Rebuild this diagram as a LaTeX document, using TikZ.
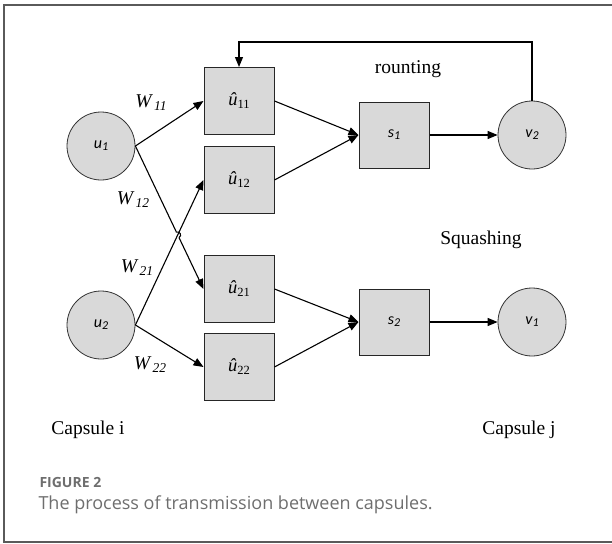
\documentclass[tikz,border=0pt]{standalone}
\usepackage{fontspec}
\setmainfont{Liberation Serif}
\newfontfamily\capfont{Open Sans}
\newfontfamily\calfont{Carlito}
\usepackage{tikz}
\usetikzlibrary{arrows.meta, positioning, calc, intersections}
\usepackage{xcolor}
\definecolor{cellgray}{HTML}{D9D9D9}
\definecolor{framegray}{HTML}{5A5A5A}
\definecolor{captiongray}{HTML}{6E6E6E}

\newcommand{\wlabel}[1]{\textit{W}\kern1pt\raisebox{-3pt}{\fontsize{13.5}{13.5}\selectfont\textit{#1}}}
\newcommand{\uhat}[1]{\textit{\^u}\raisebox{-3pt}{\fontsize{12.5}{12.5}\selectfont #1}}
\newcommand{\capsvar}[2]{{\calfont\itshape\fontsize{16}{16}\selectfont #1\raisebox{-2pt}{\fontsize{12}{12}\selectfont #2}}}

\tikzset{
  capsule/.style={circle, draw=black!80, fill=cellgray, line width=0.8pt, minimum size=68pt, inner sep=0pt},
  predbox/.style={draw=black!85, fill=cellgray, line width=1pt, minimum width=70pt, minimum height=67pt, inner sep=0pt},
  link/.style={-{Triangle[length=10pt,width=8pt]}, line width=1.1pt},
  plain/.style={font=\fontsize{19.5}{19.5}\selectfont},
}

\begin{document}
\begin{tikzpicture}[x=1pt, y=-1pt]
  \useasboundingbox (0,0) rectangle (612,543);
  \draw[framegray, line width=1.5pt] (612,5) -| (4,542) -- (612,542);

  % input capsules
  \node[capsule] (u1) at (101,146) {\capsvar{u}{1}};
  \node[capsule] (u2) at (101,325) {\capsvar{u}{2}};

  % prediction vectors
  \node[predbox] (u11) at (239,101) {\fontsize{18.5}{18.5}\selectfont\uhat{11}};
  \node[predbox] (u12) at (239,180) {\fontsize{18.5}{18.5}\selectfont\uhat{12}};
  \node[predbox] (u21) at (239,289) {\fontsize{18.5}{18.5}\selectfont\uhat{21}};
  \node[predbox] (u22) at (239,367) {\fontsize{18.5}{18.5}\selectfont\uhat{22}};

  % weighted sums and outputs
  \node[predbox, minimum height=66pt] (s1) at (394,135) {\capsvar{s}{1}};
  \node[predbox, minimum height=66pt] (s2) at (394,322) {\capsvar{s}{2}};
  \node[capsule] (v2) at (532,135) {\capsvar{v}{2}};
  \node[capsule] (v1) at (532,322) {\capsvar{v}{1}};

  % weights
  \node[plain] (w11) at (151,103) {\wlabel{11}};
  \node[plain] (w12) at (133,200) {\wlabel{12}};
  \node[plain] (w21) at (137,268) {\wlabel{21}};
  \node[plain] (w22) at (150,365) {\wlabel{22}};

  \draw[link] (u1.east) -- (u11.west);
  \draw[link, name path=cross] (u2.east) -- (u12.west);
  \draw[link] (u2.east) -- (u22.west);
  \path[name path=over] (u1.east) -- (u21.west);
  \path[name intersections={of=cross and over, by=hop}];
  \coordinate (hopa) at ($(hop)!3pt!(u1.east)$);
  \coordinate (hopb) at ($(hop)!3pt!(u21.west)$);
  \draw[line width=1.1pt] (u1.east) -- (hopa) to[bend left=90, looseness=1.6] (hopb);
  \draw[link] (hopb) -- (u21.west);

  \draw[link] (u11.east) -- (s1.west);
  \draw[link] (u12.east) -- (s1.west);
  \draw[link] (u21.east) -- (s2.west);
  \draw[link] (u22.east) -- (s2.west);
  \draw[link] (s1) -- (v2);
  \draw[link] (s2) -- (v1);

  % routing feedback
  \coordinate (fb) at (532,42);
  \draw[link] (v2.north) -- (fb) -| (u11.north);

  \node[plain] (routing) at (408,69) {rounting};
  \node[plain] (squash) at (481,240) {Squashing};
  \node[plain] (capi) at (88,430) {Capsule i};
  \node[plain] (capj) at (519,430) {Capsule j};

  % caption
  \node[anchor=west, text=captiongray, font=\capfont\fontsize{14}{14}\selectfont\bfseries] (fig) at (36,482) {FIGURE 2};
  \node[anchor=west, text=captiongray, font=\capfont\fontsize{18}{18}\selectfont] (caption) at (35,505) {The process of transmission between capsules.};
\end{tikzpicture}
\end{document}
